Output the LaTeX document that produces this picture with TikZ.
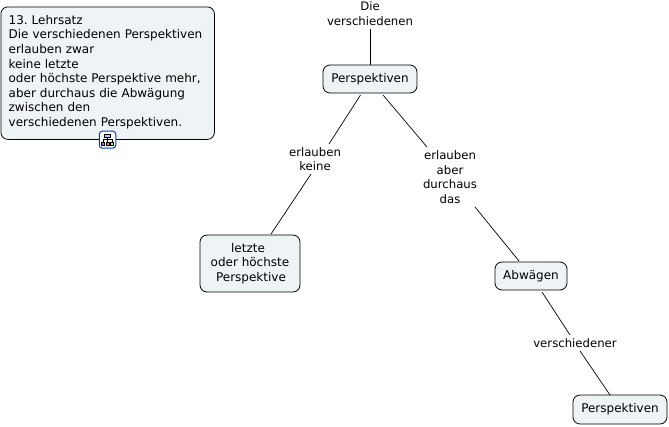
\documentclass[tikz,border=0pt]{standalone}
\usepackage{fontspec}
\usetikzlibrary{calc}
\setmainfont{DejaVu Sans}
\definecolor{boxfill}{HTML}{EEF3F6}
\tikzset{
  concept/.style={draw=black,fill=boxfill,rounded corners=7pt,line width=0.8pt,inner sep=0pt,align=center,font=\fontsize{12}{14.6}\selectfont},
  linklabel/.style={inner sep=0pt,outer sep=0pt,align=center,font=\fontsize{11.7}{14.6}\selectfont},
  conn/.style={draw=black,line width=0.7pt}
}
\frenchspacing
\begin{document}
\begin{tikzpicture}[x=1pt,y=-1pt]
\useasboundingbox (0,0) rectangle (669,426);
\node[concept,minimum width=213.5pt,minimum height=132.5pt,anchor=north west,align=left,text width=198pt] (law) at (0.5,6.5) {13. Lehrsatz\\Die verschiedenen Perspektiven\\erlauben zwar\\keine letzte\\oder höchste Perspektive mehr,\\aber durchaus die Abwägung\\zwischen den\\verschiedenen Perspektiven.\rule[-4.5pt]{0pt}{4.5pt}};
\node[draw=blue!70!cyan!80!black,fill=white,rounded corners=3pt,line width=1pt,minimum width=16.5pt,minimum height=17pt,inner sep=0pt] (icon) at (107.5,139.7) {};
\begin{scope}[line width=0.6pt,draw=black]
\draw[fill=blue!25] (104.5,134) rectangle (110.5,137);
\draw (107.5,137) -- (107.5,139) (103,139) -- (112,139) (103,139) -- (103,142) (112,139) -- (112,142) (107.5,139) -- (107.5,142);
\draw[fill=blue!50] (101.5,142) rectangle (104.5,145);
\draw[fill=red!50] (106,142) rectangle (109,145);
\draw[fill=green!50] (110.5,142) rectangle (113.5,145);
\end{scope}
\node[linklabel] (die) at (370,13.5) {Die\\verschiedenen};
\node[concept,minimum width=94pt,minimum height=28pt] (p1) at (370,79) {Perspektiven};
\node[linklabel] (keine) at (315,159) {erlauben\\keine};
\node[linklabel] (aber) at (450,177) {erlauben\\aber\\durchaus\\das};
\node[concept,minimum width=100pt,minimum height=57pt] (letzte) at (250,263.5) {letzte\hspace*{4pt}\\oder höchste\hspace*{4pt}\\\hspace*{2pt}Perspektive};
\node[concept,minimum width=72pt,minimum height=28pt] (abw) at (531,276) {Abwägen};
\node[linklabel] (versch) at (575,343) {verschiedener};
\node[concept,minimum width=94pt,minimum height=29pt] (p2) at (620,409.5) {Perspektiven};
\draw[conn] ($(die)+(0,15.5)$) -- (p1.north);
\draw[conn] ($(p1)+(-9.5,16)$) -- ($(keine)+(14,-15)$);
\draw[conn] ($(keine)+(-4,15)$) -- ($(letzte)+(21,-29.5)$);
\draw[conn] ($(p1)+(13,16)$) -- ($(aber)+(-23,-30)$);
\draw[conn] ($(aber)+(25,30)$) -- ($(abw)+(-12,-15)$);
\draw[conn] ($(abw)+(11,16)$) -- ($(versch)+(-5,-8)$);
\draw[conn] ($(versch)+(5,8)$) -- ($(p2)+(-10,-14.5)$);
\end{tikzpicture}
\end{document}
